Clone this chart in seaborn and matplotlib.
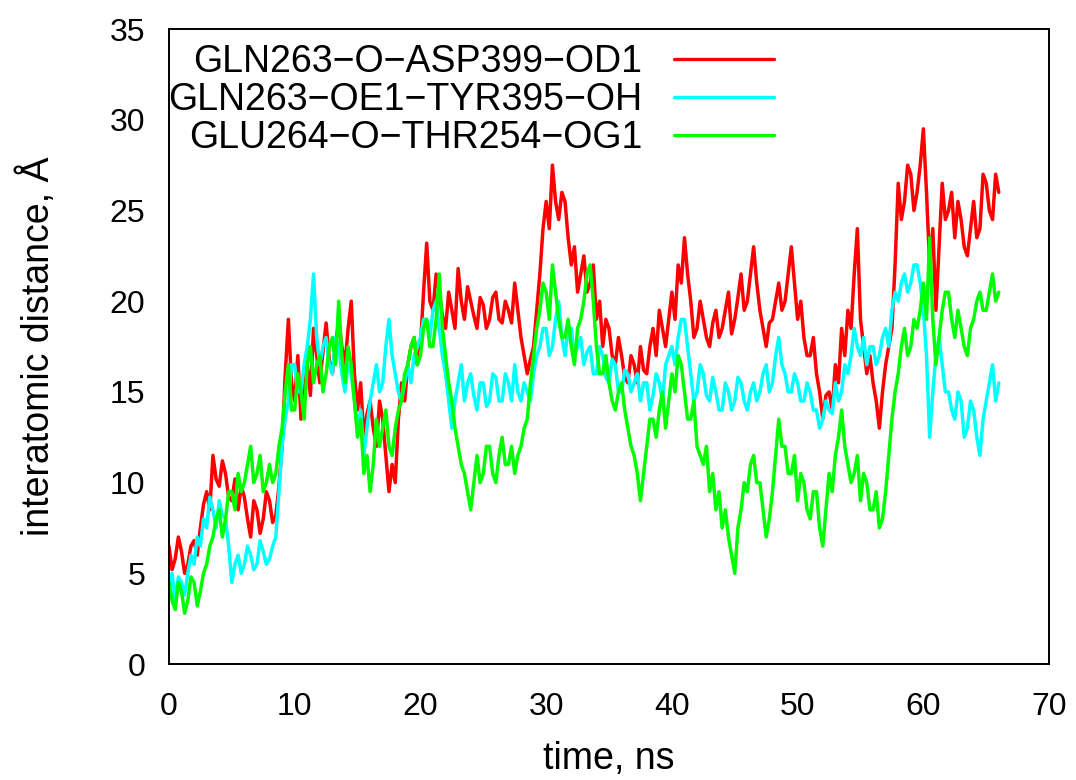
import numpy as np
import pandas as pd
import matplotlib.pyplot as plt
import seaborn as sns

# time axis in ns, one reading every 0.25 ns (0 .. 66 ns)
time_ns = np.arange(0, 66.001, 0.25)

labels = ['GLN263\u2212O\u2212ASP399\u2212OD1',
          'GLN263\u2212OE1\u2212TYR395\u2212OH',
          'GLU264\u2212O\u2212THR254\u2212OG1']
colors = ['#ff0000', '#00ffff', '#00ff00']

# distances (Angstrom), 40 readings per 10 ns row
red = [6.5, 5.2, 5.8, 7.0, 6.2, 5.0, 5.5, 6.5, 6.8, 6.0, 7.5, 8.8, 9.5, 8.5, 11.5, 10.2, 9.8, 11.2, 10.5, 9.2,
       9.0, 10.2, 8.5, 9.8, 9.2, 8.0, 7.0, 9.0, 8.5, 7.2, 8.0, 9.5, 9.0, 7.8, 8.2, 9.8, 12.0, 16.0, 19.0, 15.5,
       14.5, 17.0, 13.5, 15.0, 16.5, 14.8, 18.5, 17.0, 15.5, 17.2, 18.8, 16.8, 16.0, 17.5, 19.0, 17.5, 16.5, 18.5, 20.0, 16.0,
       14.0, 15.5, 12.5, 13.8, 14.5, 13.0, 12.0, 14.5, 13.5, 11.5, 9.5, 11.0, 10.0, 13.5, 15.5, 14.5, 16.5, 17.5, 18.0, 16.5,
       17.5, 20.5, 23.2, 20.0, 19.5, 21.5, 20.5, 19.2, 18.5, 20.5, 19.5, 18.5, 21.8, 20.0, 19.0, 20.8, 20.0, 19.2, 18.5, 20.2,
       19.8, 18.5, 19.0, 20.2, 20.5, 19.0, 18.8, 20.0, 19.5, 18.8, 21.0, 19.5, 18.0, 17.0, 16.0, 16.8, 17.5, 19.5, 21.5, 24.0,
       25.5, 24.0, 27.5, 25.5, 24.5, 26.0, 25.5, 23.5, 22.0, 23.0, 20.5, 21.5, 22.5, 20.5, 21.0, 22.0, 19.0, 20.0, 17.5, 19.0,
       18.5, 17.0, 16.5, 18.0, 17.0, 15.8, 15.5, 17.0, 16.5, 15.5, 17.5, 16.2, 16.0, 17.5, 18.5, 17.0, 19.5, 18.5, 17.5, 19.0,
       20.5, 19.0, 22.0, 21.0, 23.5, 21.5, 20.0, 18.0, 18.5, 20.0, 19.0, 18.0, 17.5, 18.8, 19.5, 18.0, 18.5, 19.5, 20.5, 18.2,
       19.0, 20.2, 21.5, 19.5, 20.0, 21.5, 23.0, 21.0, 19.5, 18.5, 17.5, 18.8, 19.0, 20.0, 21.0, 19.5, 20.0, 21.5, 23.0, 21.0,
       19.0, 20.0, 18.0, 17.0, 17.0, 18.0, 16.0, 15.0, 13.5, 14.8, 15.0, 14.0, 16.5, 15.5, 18.5, 17.0, 19.5, 18.5, 21.5, 24.0,
       19.0, 17.5, 16.0, 17.0, 15.5, 14.5, 13.0, 15.0, 16.5, 17.5, 18.5, 22.0, 26.5, 24.5, 25.5, 27.5, 27.0, 25.0, 26.0, 27.5,
       29.5, 26.0, 22.0, 24.0, 19.5, 23.0, 26.5, 24.5, 25.0, 26.0, 23.5, 25.5, 24.5, 23.0, 22.5, 24.0, 25.5, 23.5, 24.0, 27.0,
       26.5, 25.0, 24.5, 27.0, 26.0]
cyan = [4.0, 5.0, 3.5, 4.8, 4.5, 3.8, 5.0, 6.0, 5.5, 7.0, 6.5, 8.0, 7.5, 9.2, 8.5, 7.5, 9.0, 8.2, 8.0, 6.5,
        4.5, 5.5, 6.0, 5.0, 5.5, 6.5, 6.0, 5.2, 5.5, 6.8, 6.2, 5.5, 5.8, 6.5, 7.0, 9.5, 12.0, 13.5, 14.5, 16.5,
        16.5, 15.0, 15.0, 16.5, 17.5, 19.0, 21.5, 18.0, 16.5, 17.5, 18.0, 16.5, 16.0, 18.0, 17.5, 16.0, 15.0, 16.5, 16.0, 14.5,
        13.0, 14.0, 11.5, 13.0, 14.5, 15.5, 16.5, 15.0, 15.5, 17.5, 19.0, 17.0, 16.0, 15.0, 14.5, 15.5, 16.5, 15.5, 17.0, 17.5,
        18.0, 19.0, 19.0, 18.0, 19.5, 20.0, 18.5, 17.0, 16.0, 14.5, 13.0, 14.5, 15.5, 16.5, 14.5, 15.5, 16.0, 14.8, 14.0, 15.5,
        15.5, 14.2, 14.5, 16.0, 15.8, 14.5, 14.5, 16.0, 15.5, 14.5, 16.5, 15.0, 14.5, 15.5, 15.0, 14.5, 16.0, 17.0, 17.5, 18.5,
        18.5, 17.0, 17.5, 19.0, 20.0, 18.0, 17.0, 18.5, 18.5, 17.0, 17.5, 18.0, 16.5, 17.2, 17.5, 16.0, 16.0, 17.5, 17.0, 15.8,
        15.5, 16.8, 16.5, 15.0, 15.0, 16.2, 16.0, 15.0, 15.5, 16.0, 14.5, 15.5, 15.5, 14.0, 14.8, 16.0, 15.5, 14.5, 16.5, 17.0,
        17.5, 16.5, 18.0, 19.0, 19.0, 17.5, 16.0, 14.5, 15.0, 16.5, 16.0, 14.8, 14.5, 15.8, 15.0, 14.0, 14.0, 15.5, 15.0, 14.0,
        14.5, 15.8, 15.5, 14.5, 14.0, 15.0, 15.5, 14.5, 15.0, 16.0, 16.5, 15.0, 15.5, 17.0, 18.0, 16.5, 16.0, 15.0, 15.0, 16.0,
        15.5, 14.5, 14.5, 15.5, 15.0, 14.0, 14.0, 13.0, 13.5, 14.5, 14.0, 13.8, 15.5, 14.5, 15.0, 16.5, 16.0, 17.0, 18.5, 17.5,
        17.0, 18.0, 16.5, 17.5, 17.5, 16.5, 17.0, 18.0, 18.5, 17.5, 19.5, 20.5, 20.0, 21.0, 21.5, 20.5, 21.0, 22.0, 22.0, 21.0,
        19.5, 17.0, 12.5, 15.0, 17.0, 18.0, 16.5, 15.0, 15.0, 14.0, 13.5, 15.0, 14.5, 12.5, 13.0, 14.5, 14.0, 12.5, 11.5, 13.5,
        14.5, 15.5, 16.5, 14.5, 15.5]
green = [4.5, 3.5, 3.0, 4.5, 4.0, 2.8, 3.5, 4.8, 4.5, 3.2, 4.0, 5.0, 5.5, 6.5, 7.0, 8.0, 8.5, 7.0, 8.0, 9.5,
         9.5, 8.5, 10.5, 9.5, 10.0, 11.0, 12.0, 10.0, 10.5, 11.5, 9.5, 10.0, 11.0, 10.0, 10.5, 12.0, 13.0, 15.0, 16.5, 14.0,
         14.0, 16.0, 15.0, 13.5, 16.5, 17.5, 15.5, 16.5, 17.0, 15.0, 16.0, 17.5, 18.0, 16.5, 20.0, 17.0, 15.5, 17.5, 16.5, 14.5,
         12.5, 13.5, 10.5, 11.5, 9.5, 11.0, 13.5, 12.0, 13.0, 14.0, 12.0, 11.5, 13.0, 14.0, 14.5, 16.0, 16.5, 17.5, 18.0, 16.5,
         17.0, 18.5, 19.0, 17.5, 17.5, 19.0, 21.5, 18.5, 17.0, 15.5, 14.5, 13.0, 12.0, 11.0, 10.5, 9.5, 8.5, 10.0, 11.5, 10.0,
         10.5, 12.0, 12.0, 10.5, 10.0, 11.5, 12.5, 11.0, 11.0, 12.0, 10.5, 11.5, 12.0, 13.0, 13.5, 15.5, 17.0, 18.5, 19.5, 21.0,
         20.5, 19.0, 22.0, 20.5, 19.0, 18.0, 18.0, 19.0, 17.5, 16.5, 18.5, 19.0, 20.0, 21.5, 22.0, 20.0, 17.5, 16.0, 16.0, 17.0,
         15.5, 14.5, 14.0, 15.0, 15.5, 14.0, 13.0, 12.0, 11.5, 10.5, 9.0, 10.5, 12.0, 13.5, 13.5, 12.5, 14.0, 15.0, 13.0, 14.5,
         16.0, 15.0, 17.0, 16.5, 15.0, 13.5, 13.5, 14.5, 12.0, 11.5, 11.0, 12.0, 9.5, 10.5, 8.5, 9.5, 7.5, 8.5, 7.0, 6.0,
         5.0, 7.5, 8.5, 10.0, 9.5, 11.0, 11.5, 10.0, 10.0, 8.5, 7.0, 8.0, 9.5, 11.5, 13.5, 12.0, 12.0, 10.5, 10.5, 11.5,
         9.0, 10.5, 10.0, 8.5, 8.0, 9.5, 9.5, 7.5, 6.5, 8.5, 10.5, 9.5, 11.5, 12.5, 14.0, 12.0, 11.0, 10.0, 10.5, 11.5,
         9.0, 10.5, 10.0, 8.5, 8.5, 9.5, 7.5, 8.0, 9.5, 11.5, 13.5, 15.0, 16.0, 17.5, 18.5, 17.0, 17.5, 19.0, 18.5, 19.5,
         21.0, 19.0, 23.5, 19.0, 16.5, 18.0, 19.5, 20.5, 20.5, 19.0, 18.0, 19.5, 18.5, 17.5, 17.0, 18.5, 19.0, 20.0, 20.5, 19.5,
         19.5, 20.5, 21.5, 20.0, 20.5]

df = pd.concat([
    pd.DataFrame({'time': time_ns, 'dist': vals, 'pair': lab})
    for vals, lab in zip([red, cyan, green], labels)
])

sns.set_style('white')
plt.rcParams['font.family'] = ['Liberation Sans', 'DejaVu Sans']
plt.rcParams['text.color'] = 'black'
plt.rcParams['axes.labelcolor'] = 'black'

fig = plt.figure(figsize=(10.76, 7.8), dpi=100)
ax = fig.add_axes([0.157, 0.1487, 0.818, 0.814])

sns.lineplot(data=df, x='time', y='dist', hue='pair', hue_order=labels,
             palette=colors, linewidth=2.5, ax=ax, estimator=None)

ax.set_xlim(0, 70)
ax.set_ylim(0, 35)
ax.set_xticks(range(0, 71, 10))
ax.set_yticks(range(0, 36, 5))
ax.tick_params(direction='in', length=7, width=1.2, labelsize=23, colors='black')
ax.tick_params(axis='x', pad=20)
ax.tick_params(axis='y', pad=17)
for s in ax.spines.values():
    s.set_color('black')
    s.set_linewidth(1.4)

ax.set_xlabel('time, ns', fontsize=27, labelpad=14)
ax.set_ylabel('interatomic distance, \u00c5', fontsize=27, labelpad=38)

leg = ax.legend(loc='upper right', bbox_to_anchor=(0.6875, 0.976), frameon=False,
                markerfirst=False, fontsize=27, handlelength=2.67,
                handletextpad=0.85, labelspacing=0.05, borderpad=0,
                borderaxespad=0)
for t in leg.get_texts():
    t.set_color('black')
for h in leg.get_lines():
    h.set_linewidth(2.4)

fig.savefig('out.png', dpi=100)
